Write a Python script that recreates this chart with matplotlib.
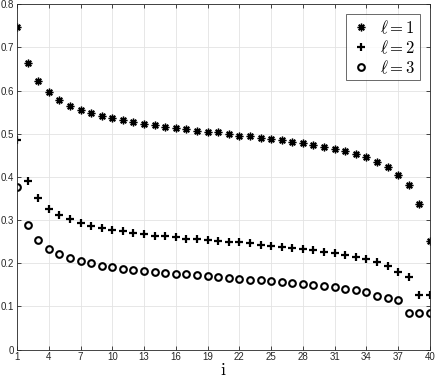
import numpy as np
import matplotlib
matplotlib.use("Agg")
import matplotlib.pyplot as plt

plt.rcParams['mathtext.fontset'] = 'cm'
plt.rcParams['font.family'] = ['Liberation Sans', 'DejaVu Sans']

# index i = 1..40
idx = np.arange(1, 41)

# l = 1
l1 = [0.748, 0.664, 0.622, 0.596, 0.578, 0.565, 0.556, 0.547, 0.541, 0.536,
      0.531, 0.526, 0.522, 0.519, 0.516, 0.513, 0.510, 0.507, 0.505, 0.503,
      0.499, 0.4955, 0.494, 0.491, 0.488, 0.485, 0.481, 0.478, 0.474, 0.470,
      0.465, 0.460, 0.453, 0.446, 0.435, 0.423, 0.405, 0.380, 0.336, 0.251]
# l = 2
l2 = [0.485, 0.390, 0.350, 0.326, 0.312, 0.302, 0.293, 0.287, 0.281, 0.2775,
      0.274, 0.2705, 0.267, 0.264, 0.262, 0.260, 0.257, 0.256, 0.2535, 0.251,
      0.2496, 0.248, 0.2457, 0.243, 0.240, 0.238, 0.2357, 0.2326, 0.230, 0.227,
      0.224, 0.220, 0.2147, 0.209, 0.202, 0.1946, 0.180, 0.168, 0.1256, 0.1256]
# l = 3
l3 = [0.376, 0.289, 0.2527, 0.2333, 0.221, 0.2116, 0.2054, 0.200, 0.1946, 0.1907,
      0.1876, 0.1853, 0.183, 0.1806, 0.1783, 0.176, 0.1744, 0.172, 0.1705, 0.169,
      0.166, 0.1636, 0.162, 0.1605, 0.159, 0.1566, 0.155, 0.152, 0.1496, 0.1465,
      0.144, 0.140, 0.137, 0.1326, 0.125, 0.119, 0.1147, 0.085, 0.085, 0.085]

xticks = np.arange(1, 41, 3)
yticks = np.arange(0, 0.81, 0.1)

fig = plt.figure(figsize=(4.36, 3.82), dpi=100)
ax = fig.add_axes([0.039, 0.085, 0.947, 0.904])

ax.plot(idx, l1, linestyle='none', marker=(8, 2, 0), markersize=5.5,
        markeredgewidth=1.0, color='k', label=r'$\ell=1$')
ax.plot(idx, l2, linestyle='none', marker='+', markersize=5.5,
        markeredgewidth=1.6, color='k', label=r'$\ell=2$')
ax.plot(idx, l3, linestyle='none', marker='o', markersize=4.8,
        markeredgewidth=1.5, markerfacecolor='none', color='k', label=r'$\ell=3$')

ax.set_xlim(1, 40)
ax.set_ylim(0, 0.8)
ax.set_xticks(xticks)
ax.set_yticks(yticks)
ax.set_yticklabels(['0', '0.1', '0.2', '0.3', '0.4', '0.5', '0.6', '0.7', '0.8'])
ax.tick_params(direction='in', labelsize=7, length=3, width=0.6,
               top=True, right=True, pad=2, colors='#262626')
ax.grid(True, color='#e3e3e3', linewidth=0.6)
ax.set_axisbelow(True)
for s in ax.spines.values():
    s.set_linewidth(0.6)
    s.set_color('#262626')

ax.set_xlabel(r'$\mathrm{i}$', fontsize=13, labelpad=0)

leg = ax.legend(loc='upper right', fontsize=12, frameon=True, fancybox=False,
                edgecolor='#262626', handletextpad=0.5, borderpad=0.25,
                labelspacing=0.15, handlelength=1.3, borderaxespad=0.6)
leg.get_frame().set_linewidth(0.6)

fig.savefig('out.png', dpi=100)
